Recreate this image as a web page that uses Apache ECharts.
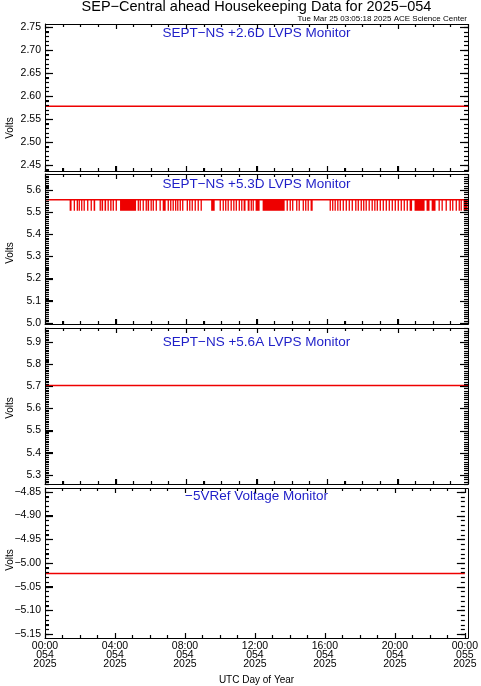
<!DOCTYPE html>
<html>
<head>
<meta charset="utf-8">
<script src="https://cdn.jsdelivr.net/npm/echarts@6/dist/echarts.min.js"></script>
<style>
html,body{margin:0;padding:0;background:#fff;}
#chart{width:481px;height:686px;}
</style>
</head>
<body>
<div id="chart"></div>
<script>
// ---------------- DATA ----------------
const hours = [0,1,2,3,4,5,6,7,8,9,10,11,12,13,14,15,16,17,18,19,20,21,22,23,24];
const volts26D = [2.578,2.578,2.578,2.578,2.578,2.578,2.578,2.578,2.578,2.578,2.578,2.578,2.578,2.578,2.578,2.578,2.578,2.578,2.578,2.578,2.578,2.578,2.578,2.578,2.578];
const volts53D = [5.556,5.556,5.556,5.556,5.556,5.556,5.556,5.556,5.556,5.556,5.556,5.556,5.556,5.556,5.556,5.556,5.556,5.556,5.556,5.556,5.556,5.556,5.556,5.556,5.556];
const volts56A = [5.703,5.703,5.703,5.703,5.703,5.703,5.703,5.703,5.703,5.703,5.703,5.703,5.703,5.703,5.703,5.703,5.703,5.703,5.703,5.703,5.703,5.703,5.703,5.703,5.703];
const volts5Ref = [-5.022,-5.022,-5.022,-5.022,-5.022,-5.022,-5.022,-5.022,-5.022,-5.022,-5.022,-5.022,-5.022,-5.022,-5.022,-5.022,-5.022,-5.022,-5.022,-5.022,-5.022,-5.022,-5.022,-5.022,-5.022];
// +5.3D monitor: intervals (start hour, end hour) where value drops from the high level to the low level
const dipHigh = 5.556;
const dipLow = 5.506;
const dipStart = [1.42,1.65,1.82,1.93,2.07,2.21,2.41,2.61,2.78,3.12,3.23,3.40,3.57,3.72,3.86,4.03,4.28,5.28,5.39,5.56,5.73,5.84,6.01,6.13,6.30,6.52,6.70,6.98,7.12,7.26,7.40,7.52,7.66,7.80,8.06,8.20,8.34,8.51,8.68,8.85,9.45,9.93,10.10,10.24,10.38,10.55,10.70,10.84,11.01,11.15,11.29,11.52,11.69,11.80,11.97,12.37,13.73,13.90,14.04,14.27,14.41,14.64,14.78,14.92,15.09,16.17,16.31,16.45,16.60,16.74,16.91,17.08,17.25,17.42,17.62,17.76,17.93,18.07,18.21,18.38,18.55,18.70,18.84,19.01,19.18,19.35,19.52,19.69,19.86,20.03,20.20,20.37,20.54,20.71,20.99,21.67,21.96,22.35,22.52,22.75,22.98,23.12,23.32,23.49,23.60,23.77];
const dipEnd   = [1.53,1.70,1.87,1.93,2.13,2.21,2.47,2.61,2.87,3.12,3.32,3.49,3.57,3.80,3.86,4.03,5.19,5.33,5.45,5.62,5.73,5.93,6.01,6.18,6.33,6.58,6.87,7.04,7.18,7.32,7.43,7.57,7.72,7.83,8.11,8.26,8.40,8.54,8.74,8.91,9.65,9.99,10.16,10.30,10.44,10.61,10.75,10.89,11.06,11.21,11.40,11.63,11.74,11.86,12.20,13.62,13.79,13.96,14.10,14.33,14.47,14.70,14.84,14.98,15.21,16.23,16.37,16.51,16.62,16.79,16.96,17.13,17.30,17.48,17.67,17.82,17.99,18.13,18.27,18.44,18.61,18.75,18.89,19.06,19.23,19.40,19.57,19.74,19.91,20.09,20.26,20.43,20.60,20.85,21.56,21.84,22.18,22.41,22.58,22.81,23.04,23.18,23.35,23.55,23.66,24.00];

const xTickLabels = ['00:00\n054\n2025','04:00\n054\n2025','08:00\n054\n2025','12:00\n054\n2025','16:00\n054\n2025','20:00\n054\n2025','00:00\n055\n2025'];
const xMajorTicks = [0,4,8,12,16,20,24];
const yTicks1 = [2.45,2.50,2.55,2.60,2.65,2.70,2.75];
const yTicks2 = [5.0,5.1,5.2,5.3,5.4,5.5,5.6];
const yTicks3 = [5.3,5.4,5.5,5.6,5.7,5.8,5.9];
const yTicks4 = [-5.15,-5.10,-5.05,-5.00,-4.95,-4.90,-4.85];
const panelTitles = ['SEPT\u2212NS +2.6D LVPS Monitor','SEPT\u2212NS +5.3D LVPS Monitor','SEPT\u2212NS +5.6A LVPS Monitor','\u22125VRef Voltage Monitor'];
const mainTitle = 'SEP\u2212Central ahead Housekeeping Data for 2025\u2212054';
const subTitle = 'Tue Mar 25 03:05:18 2025 ACE Science Center';

// ---------------- LAYOUT ----------------
const FONT = '"Liberation Sans", Arial, Helvetica, sans-serif';
const RED = '#ee0000';
const BLUE = '#1e1ec8';
const plotLeft = 45, plotRight = 468;
const panels = [
  {top:24, height:147, min:2.437, max:2.7565, split:6, minor:5, ticks:yTicks1, dec:2, minorFrom:2.44, minorTo:2.75, data:volts26D, titleY:33, voltsY:128},
  {top:174, height:150, min:4.995, max:5.672, split:6, minor:10, ticks:yTicks2, dec:1, minorFrom:5.00, minorTo:5.67, data:volts53D, titleY:184, voltsY:253},
  {top:328, height:156, min:5.259, max:5.962, split:7, minor:10, ticks:yTicks3, dec:1, minorFrom:5.26, minorTo:5.96, data:volts56A, titleY:342, voltsY:408},
  {top:488, height:150, min:-5.158, max:-4.842, split:6, minor:5, ticks:yTicks4, dec:2, minorFrom:-5.15, minorTo:-4.85, data:volts5Ref, titleY:496, voltsY:560}
];
const fmtMinus = s => s.replace('-', '\u2212');
function stepList(a, b, step){
  const out = [];
  const n = Math.round((b - a) / step);
  for (let k = 0; k <= n; k++) out.push(Math.round((a + k*step)*1000)/1000);
  return out;
}

const grid = [], xAxis = [], yAxis = [], series = [], graphic = [];
panels.forEach((p, i) => {
  grid.push({left: plotLeft, right: 481 - plotRight, top: p.top, height: p.height});
  const isLast = i === panels.length - 1;
  xAxis.push({
    type:'value', gridIndex:i, min:0, max:24, interval:4,
    axisLine:{show:true, onZero:false, lineStyle:{color:'#000', width:1}},
    axisTick:{show:true, inside:true, length:5, lineStyle:{color:'#000', width:1}},
    minorTick:{show:true, splitNumber:4, length:3, lineStyle:{color:'#000', width:1}},
    splitLine:{show:false},
    axisLabel:{show: isLast, color:'#000', fontFamily:FONT, fontSize:10.5, lineHeight:9.3, margin:3,
      formatter: v => xTickLabels[Math.round(v/4)]}
  });
  yAxis.push({
    type:'value', gridIndex:i, min:p.min, max:p.max, splitNumber:p.split,
    axisLine:{show:true, onZero:false, lineStyle:{color:'#000', width:1}},
    axisTick:{show:true, inside:true, length:8, lineStyle:{color:'#000', width:1}},
    minorTick:{show:true, splitNumber:p.minor, length:4, lineStyle:{color:'#000', width:1}},
    axisLabel:{show:true, color:'#000', fontFamily:FONT, fontSize:10.5, margin:4,
      showMinLabel:false, showMaxLabel:false,
      formatter: v => fmtMinus(Number(v).toFixed(p.dec))},
    splitLine:{show:false}
  });
  series.push({
    type:'line', xAxisIndex:i, yAxisIndex:i, showSymbol:false, symbol:'none',
    lineStyle:{color:RED, width:1.5}, data: hours.map((h, k) => [h, p.data[k]]), z:3, animation:false
  });
  graphic.push({type:'text', x:(plotLeft+plotRight)/2, y:p.titleY, style:{text:panelTitles[i], fill:BLUE, font:'13.5px '+FONT, textAlign:'center', textVerticalAlign:'middle'}});
  graphic.push({type:'text', x:10, y:p.voltsY, rotation:Math.PI/2, style:{text:'Volts', fill:'#000', font:'10px '+FONT, textAlign:'center', textVerticalAlign:'middle'}});
  graphic.push({type:'rect', shape:{x:plotLeft+0.5, y:p.top+0.5, width:plotRight-plotLeft, height:p.height}, style:{fill:'none', stroke:'#000', lineWidth:1}, silent:true, z:6});
});

// dips for +5.3D panel
series.push({
  type:'custom', xAxisIndex:1, yAxisIndex:1, clip:true, animation:false, z:4,
  encode:{x:[0,1], y:[2,3]},
  data: dipStart.map((s, k) => [s, dipEnd[k], dipLow, dipHigh]),
  renderItem: function(params, api){
    const p0 = api.coord([api.value(0), api.value(3)]);
    const p1 = api.coord([api.value(1), api.value(2)]);
    const w = Math.max(p1[0] - p0[0], 1.3);
    return {type:'rect', shape:{x:p0[0]-0.4, y:p0[1], width:w, height:p1[1]-p0[1]}, style:{fill:RED}};
  }
});

graphic.push({type:'text', x:(plotLeft+plotRight)/2, y:7, style:{text:mainTitle, fill:'#000', font:'14.5px '+FONT, textAlign:'center', textVerticalAlign:'middle'}});
graphic.push({type:'text', x:467, y:19, style:{text:subTitle, fill:'#000', font:'8px '+FONT, textAlign:'right', textVerticalAlign:'middle'}});
graphic.push({type:'text', x:(plotLeft+plotRight)/2, y:680, style:{text:'UTC Day of Year', fill:'#000', font:'10px '+FONT, textAlign:'center', textVerticalAlign:'middle'}});

const chart = echarts.init(document.getElementById('chart'));
chart.setOption({
  animation:false,
  backgroundColor:'#fff',
  grid, xAxis, yAxis, series, graphic
});

// inward frame ticks on all four sides, placed through each grid's axis scales
const tickGraphics = [];
function addLine(x1, y1, x2, y2){
  tickGraphics.push({type:'line', silent:true, z:7, shape:{x1, y1, x2, y2}, style:{stroke:'#000', lineWidth:1.2}});
}
panels.forEach((p, i) => {
  const tl = chart.convertToPixel({gridIndex:i}, [0, p.max]);
  const br = chart.convertToPixel({gridIndex:i}, [24, p.min]);
  if (!tl || !br) return;
  stepList(0, 24, 1).forEach(h => {
    const len = xMajorTicks.indexOf(h) >= 0 ? 5 : 3;
    const px = chart.convertToPixel({gridIndex:i}, [h, p.min]);
    const x = Math.round(px[0]) + 0.5;
    addLine(x, br[1], x, br[1] - len);
    addLine(x, tl[1], x, tl[1] + len);
  });
  const drawY = (v, len) => {
    const py = chart.convertToPixel({gridIndex:i}, [0, v]);
    const y = Math.round(py[1]) + 0.5;
    addLine(tl[0], y, tl[0] + len, y);
    addLine(br[0], y, br[0] - len, y);
  };
  stepList(p.minorFrom, p.minorTo, 0.01).forEach(v => drawY(v, 4));
  p.ticks.forEach(v => drawY(v, 8));
});
chart.setOption({graphic: graphic.concat(tickGraphics)});
</script>
</body>
</html>
